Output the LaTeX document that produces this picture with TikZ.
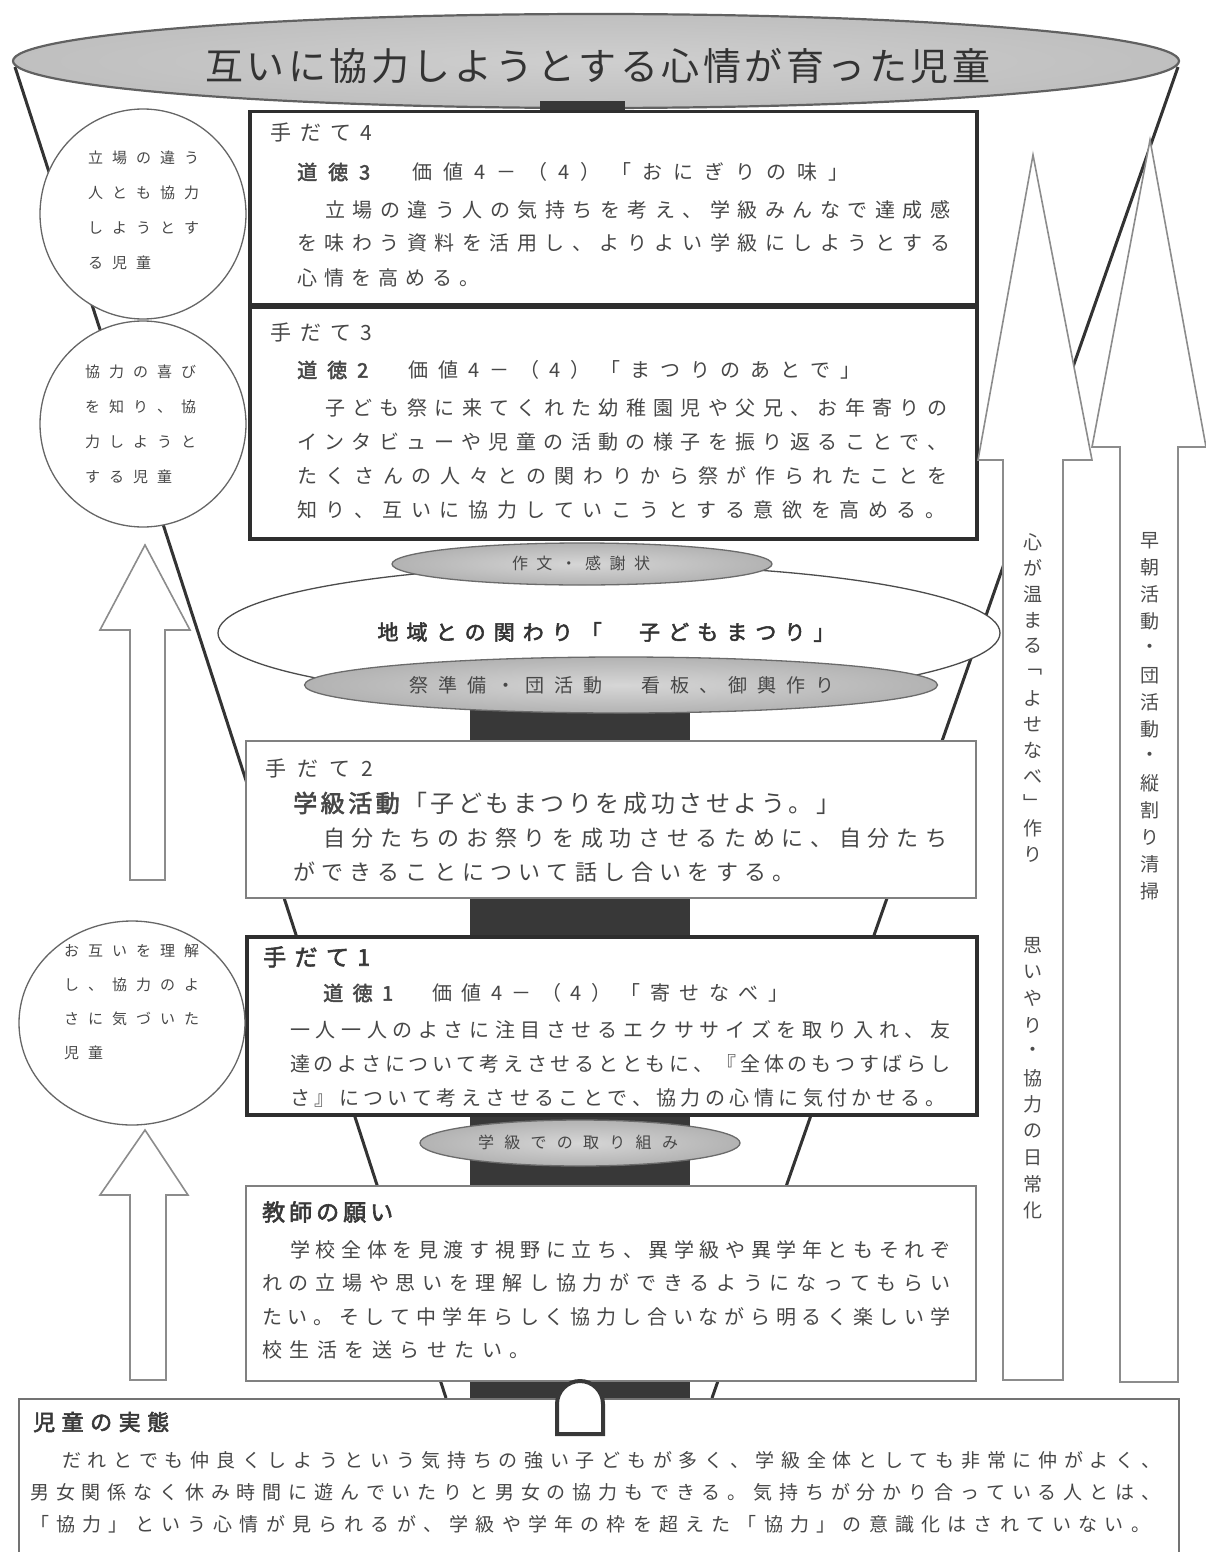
\documentclass[tikz,border=0pt]{standalone}
\usepackage{fontspec}
\newfontfamily\jp{Noto Sans CJK JP}
\newfontfamily\jpb[FakeBold=2.5]{Noto Sans CJK JP}
\usetikzlibrary{shapes.geometric}
\newcommand\fsz[1]{\jp\fontsize{#1}{#1}\selectfont}
\newcommand\fbz[1]{\jpb\fontsize{#1}{#1}\selectfont}
\ExplSyntaxOn
\NewDocumentCommand\jl{m m}{\hbox~to~#1{\tl_map_inline:nn{#2}{{##1}\hfil}\unskip}}
\NewDocumentCommand\pl{m m}{\hbox{\tl_map_inline:nn{#2}{\hbox~to~#1{{##1}\hss}}}}
\NewDocumentCommand\vt{m m}{\vbox{\offinterlineskip\tl_map_inline:nn{#2}{\hbox~to~1.2em{\hss\vbox~to~#1{\vss\hbox{##1}\vss}\hss}}}}
\ExplSyntaxOff
\begin{document}
\begin{tikzpicture}[x=1pt,y=-1pt,
  txt/.style={anchor=base west, inner sep=0pt, text=black!72},
  ctxt/.style={anchor=base, inner sep=0pt, text=black!72},
  bigbox/.style={draw=black!82, line width=3.5pt, fill=white, anchor=north west, inner sep=0pt},
  thinbox/.style={draw=black!50, line width=1.6pt, fill=white, anchor=north west, inner sep=0pt},
  grayell/.style={ellipse, draw=black!58, line width=1.3pt, inner color=black!16, outer color=black!30, inner sep=0pt},
  whiteell/.style={ellipse, draw=black!70, line width=1.3pt, fill=white, inner sep=0pt},
  circ/.style={ellipse, draw=black!60, line width=1.3pt, fill=white, inner sep=0pt},
  funnel/.style={draw=black!80, line width=3pt},
  uparrow/.style={draw=black!45, line width=1.6pt, fill=white, line join=miter},
  darkcol/.style={fill=black!78},
  tabstyle/.style={draw=black!78, line width=4pt, fill=white}
]
\useasboundingbox (0,0) rectangle (1206,1552);
\fill[white] (0,0) rectangle (1206,1552);

% dark central column
\fill[darkcol] (470,700) rectangle (690,1400);

% funnel lines
\coordinate (fl0) at (15,67);
\coordinate (fl1) at (446,1398);
\coordinate (fr0) at (1178,67);
\coordinate (fr1) at (712,1398);
\draw[funnel] (fl0) -- (fl1);
\draw[funnel] (fr0) -- (fr1);

% top goal ellipse
\node[ellipse, draw=black!62, line width=2.2pt, inner color=black!19, outer color=black!25, minimum width=1166pt, minimum height=94pt, inner sep=0pt] (goal) at (596,61) {};
\fill[darkcol] (540,101) rectangle (625,112);
\node[txt, font=\fsz{38}, text=black!80] (goalt) at (205,80.4) {\jl{785pt}{互いに協力しようとする心情が育った児童}};

% 手だて4
\node[bigbox, minimum width=727pt, minimum height=193pt] (t4) at (248,110) {};
\node[txt, font=\fsz{21}] (t4h) at (270,141) {\jl{102pt}{手だて4}};
\node[txt, font=\fsz{20}] (t4a) at (297,179.6) {\jl{551pt}{{\jpb 道}{\jpb 徳}{\jpb 3}　価値4－（4）「おにぎりの味」}};
\node[txt, font=\fsz{20}] (t4b) at (325,217.6) {\jl{625pt}{立場の違う人の気持ちを考え、学級みんなで達成感}};
\node[txt, font=\fsz{20}] (t4c) at (297,250.6) {\jl{653pt}{を味わう資料を活用し、よりよい学級にしようとする}};
\node[txt, font=\fsz{20}] (t4d) at (297,285.6) {\pl{27pt}{心情を高める。}};

% 手だて3
\node[bigbox, minimum width=727pt, minimum height=232pt] (t3) at (248,305) {};
\node[txt, font=\fsz{21}] (t3h) at (270,340) {\jl{102pt}{手だて3}};
\node[txt, font=\fsz{20}] (t3a) at (297,377.6) {\jl{563pt}{{\jpb 道}{\jpb 徳}{\jpb 2}　価値4－（4）「まつりのあとで」}};
\node[txt, font=\fsz{20}] (t3b) at (325,415.6) {\jl{622pt}{子ども祭に来てくれた幼稚園児や父兄、お年寄りの}};
\node[txt, font=\fsz{20}] (t3c) at (297,449.6) {\jl{650pt}{インタビューや児童の活動の様子を振り返ることで、}};
\node[txt, font=\fsz{20}] (t3d) at (297,483.6) {\jl{650pt}{たくさんの人々との関わりから祭が作られたことを}};
\node[txt, font=\fsz{20}] (t3e) at (297,517.6) {\jl{648pt}{知り、互いに協力していこうとする意欲を高める。}};

% community ellipses
\node[whiteell, minimum width=782pt, minimum height=136pt] (chiiki) at (609,633) {};
\node[grayell, minimum width=380pt, minimum height=42pt] (sakubun) at (582,564) {};
\node[grayell, minimum width=633pt, minimum height=56pt] (junbi) at (621,685) {};
\node[ctxt, font=\fsz{16}] (sakubunt) at (581,569.1) {\jl{138pt}{作文・感謝状}};
\node[ctxt, font=\fbz{21}, text=black!80] (chiikit) at (606,640) {\jl{457pt}{地域との関わり「　子どもまつり」}};
\node[ctxt, font=\fsz{19}] (junbit) at (622,692.2) {\jl{425pt}{祭準備・団活動　看板、御輿作り}};

% 手だて2
\node[thinbox, minimum width=730pt, minimum height=157pt] (t2) at (245,740) {};
\node[txt, font=\fsz{21}] (t2h) at (265,776) {\jl{108pt}{手だて2}};
\node[txt, font=\fsz{24}] (t2a) at (293,812.1) {\jl{547pt}{{\jpb 学}{\jpb 級}{\jpb 活}{\jpb 動}「子どもまつりを成功させよう。」}};
\node[txt, font=\fsz{22}] (t2b) at (323,846.4) {\jl{624pt}{自分たちのお祭りを成功させるために、自分たち}};
\node[txt, font=\fsz{22}] (t2c) at (293,880.4) {\pl{28.2pt}{ができることについて話し合いをする。}};

% 手だて1
\node[bigbox, minimum width=730pt, minimum height=178pt] (t1) at (245,935) {};
\node[txt, font=\fbz{23}, text=black!78] (t1h) at (263,965.7) {\jl{107pt}{手だて1}};
\node[txt, font=\fsz{20}] (t1a) at (323,1000.6) {\jl{465pt}{{\jpb 道}{\jpb 徳}{\jpb 1}　価値4－（4）「寄せなべ」}};
\node[txt, font=\fsz{20}] (t1b) at (290,1037.6) {\jl{660pt}{一人一人のよさに注目させるエクササイズを取り入れ、友}};
\node[txt, font=\fsz{20}] (t1c) at (290,1071.6) {\jl{660pt}{達のよさについて考えさせるとともに、『全体のもつすばらし}};
\node[txt, font=\fsz{20}] (t1d) at (290,1105.6) {\jl{655pt}{さ』について考えさせることで、協力の心情に気付かせる。}};

% 学級での取り組み
\node[grayell, minimum width=320pt, minimum height=46pt] (gakkyu) at (580,1143) {};
\node[ctxt, font=\fsz{16}] (gakkyut) at (578,1148.1) {\jl{200pt}{学級での取り組み}};

% 教師の願い
\node[thinbox, minimum width=730pt, minimum height=195pt] (teacher) at (245,1185) {};
\node[txt, font=\fbz{23}, text=black!78] (teacherh) at (262,1220.7) {\pl{27pt}{教師の願い}};
\node[txt, font=\fsz{20}] (teachera) at (290,1257.6) {\jl{660pt}{学校全体を見渡す視野に立ち、異学級や異学年ともそれぞ}};
\node[txt, font=\fsz{20}] (teacherb) at (262,1290.6) {\jl{688pt}{れの立場や思いを理解し協力ができるようになってもらい}};
\node[txt, font=\fsz{20}] (teacherc) at (262,1324.6) {\jl{688pt}{たい。そして中学年らしく協力し合いながら明るく楽しい学}};
\node[txt, font=\fsz{20}] (teacherd) at (262,1357.6) {\pl{27.5pt}{校生活を送らせたい。}};

% bottom box
\node[thinbox, draw=black!55, minimum width=1160pt, minimum height=175pt] (jittai) at (18,1398) {};
\draw[tabstyle] (557,1434) -- (557,1404) arc[start angle=180, end angle=360, radius=23] -- (603,1434) -- cycle;
\node[txt, font=\fbz{22}, text=black!78] (jittaih) at (33,1430.4) {\pl{28.5pt}{児童の実態}};
\node[txt, font=\fsz{19}] (jittaia) at (62,1467.2) {\jl{1098pt}{だれとでも仲良くしようという気持ちの強い子どもが多く、学級全体としても非常に仲がよく、}};
\node[txt, font=\fsz{19}] (jittaib) at (30,1499.2) {\jl{1130pt}{男女関係なく休み時間に遊んでいたりと男女の協力もできる。気持ちが分かり合っている人とは、}};
\node[txt, font=\fsz{19}] (jittaic) at (30,1531.2) {\jl{1120pt}{「協力」という心情が見られるが、学級や学年の枠を超えた「協力」の意識化はされていない。}};

% left circles
\node[circ, minimum width=206pt, minimum height=210pt] (c1) at (143,214) {};
\node[circ, minimum width=206pt, minimum height=206pt] (c2) at (143,424) {};
\node[circ, minimum width=226pt, minimum height=204pt] (c3) at (132,1023) {};
\node[txt, font=\fsz{15}] (c1a) at (88,163.7) {\pl{24pt}{立場の違う}};
\node[txt, font=\fsz{15}] (c1b) at (88,198.7) {\pl{24pt}{人とも協力}};
\node[txt, font=\fsz{15}] (c1c) at (88,233.7) {\pl{24pt}{しようとす}};
\node[txt, font=\fsz{15}] (c1d) at (88,268.7) {\pl{24pt}{る児童}};
\node[txt, font=\fsz{15}] (c2a) at (85,377.7) {\pl{24pt}{協力の喜び}};
\node[txt, font=\fsz{15}] (c2b) at (85,412.7) {\pl{24pt}{を知り、協}};
\node[txt, font=\fsz{15}] (c2c) at (85,447.7) {\pl{24pt}{力しようと}};
\node[txt, font=\fsz{15}] (c2d) at (85,482.7) {\pl{24pt}{する児童}};
\node[txt, font=\fsz{15}] (c3a) at (64,956.7) {\pl{24pt}{お互いを理解}};
\node[txt, font=\fsz{15}] (c3b) at (64,990.7) {\pl{24pt}{し、協力のよ}};
\node[txt, font=\fsz{15}] (c3c) at (64,1024.7) {\pl{24pt}{さに気づいた}};
\node[txt, font=\fsz{15}] (c3d) at (64,1058.7) {\pl{24pt}{児童}};

% left up arrows
\draw[uparrow] (145,545) -- (190,630) -- (165,630) -- (165,880) -- (130,880) -- (130,630) -- (100,630) -- cycle;
\draw[uparrow] (145,1130) -- (188,1195) -- (166,1195) -- (166,1380) -- (130,1380) -- (130,1195) -- (100,1195) -- cycle;

% right up arrows
\draw[uparrow] (1033,155) -- (1092,460) -- (1063,460) -- (1063,1380) -- (1003,1380) -- (1003,460) -- (978,460) -- cycle;
\draw[uparrow] (1150,140) -- (1206,447) -- (1178,447) -- (1178,1382) -- (1120,1382) -- (1120,447) -- (1092,447) -- cycle;
\node[anchor=north, inner sep=0pt, text=black!70, font=\fsz{19}] (v1a) at (1033,529) {\vt{26pt}{心が温まる﹁よせなべ﹂作り}};
\node[anchor=north, inner sep=0pt, text=black!70, font=\fsz{19}] (v1b) at (1033,932) {\vt{26.5pt}{思いやり・協力の日常化}};
\node[anchor=north, inner sep=0pt, text=black!70, font=\fsz{19}] (v2) at (1150,527) {\vt{27pt}{早朝活動・団活動・縦割り清掃}};
\end{tikzpicture}
\end{document}
